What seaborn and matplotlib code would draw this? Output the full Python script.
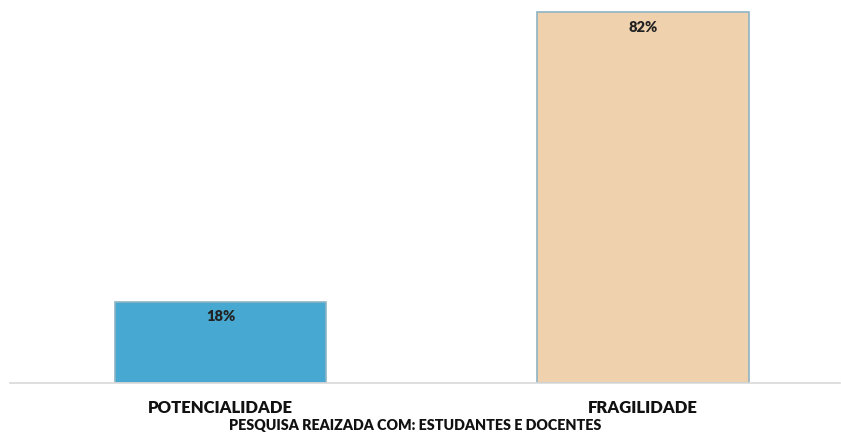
import matplotlib
matplotlib.use("Agg")
import matplotlib.pyplot as plt
import seaborn as sns
import pandas as pd

categorias = ["POTENCIALIDADE", "FRAGILIDADE"]
valores = [18, 82]
rotulos = ["18%", "82%"]
cores = ["#47A8D1", "#F0D1AE"]
subtitulo = "PESQUISA REAIZADA COM: ESTUDANTES E DOCENTES"

df = pd.DataFrame({"cat": categorias, "val": valores})

sns.set_style("white")
plt.rcParams["font.family"] = ["Lato", "DejaVu Sans"]

fig = plt.figure(figsize=(8.41, 4.34), dpi=100)
ax = fig.add_axes([10 / 841, 51 / 434, 830 / 841, 380 / 434])

sns.barplot(data=df, x="cat", y="val", hue="cat", palette=cores, saturation=1,
            width=0.5, legend=False, ax=ax, edgecolor="#8FB4C4", linewidth=1.2)

for p, txt in zip(ax.patches, rotulos):
    ax.text(p.get_x() + p.get_width() / 2, p.get_height() - 3.4, txt,
            ha="center", va="center", fontsize=10.5, fontweight="heavy", color="#222222")

ax.set_xlim(-0.498, 1.466)
ax.set_ylim(0, 84)
ax.set_xlabel("")
ax.set_ylabel("")
ax.set_yticks([])
ax.tick_params(axis="x", length=0, pad=12, labelsize=12)
for lab in ax.get_xticklabels():
    lab.set_fontweight("heavy")
    lab.set_color("#111111")
for s in ["top", "left", "right"]:
    ax.spines[s].set_visible(False)
ax.spines["bottom"].set_color("#D9D9D9")
ax.spines["bottom"].set_linewidth(1.2)

fig.text(415 / 841, 1 - 425 / 434, subtitulo, ha="center", va="center",
         fontsize=10.3, fontweight="heavy", color="#111111")

fig.savefig("out.png", dpi=100)
